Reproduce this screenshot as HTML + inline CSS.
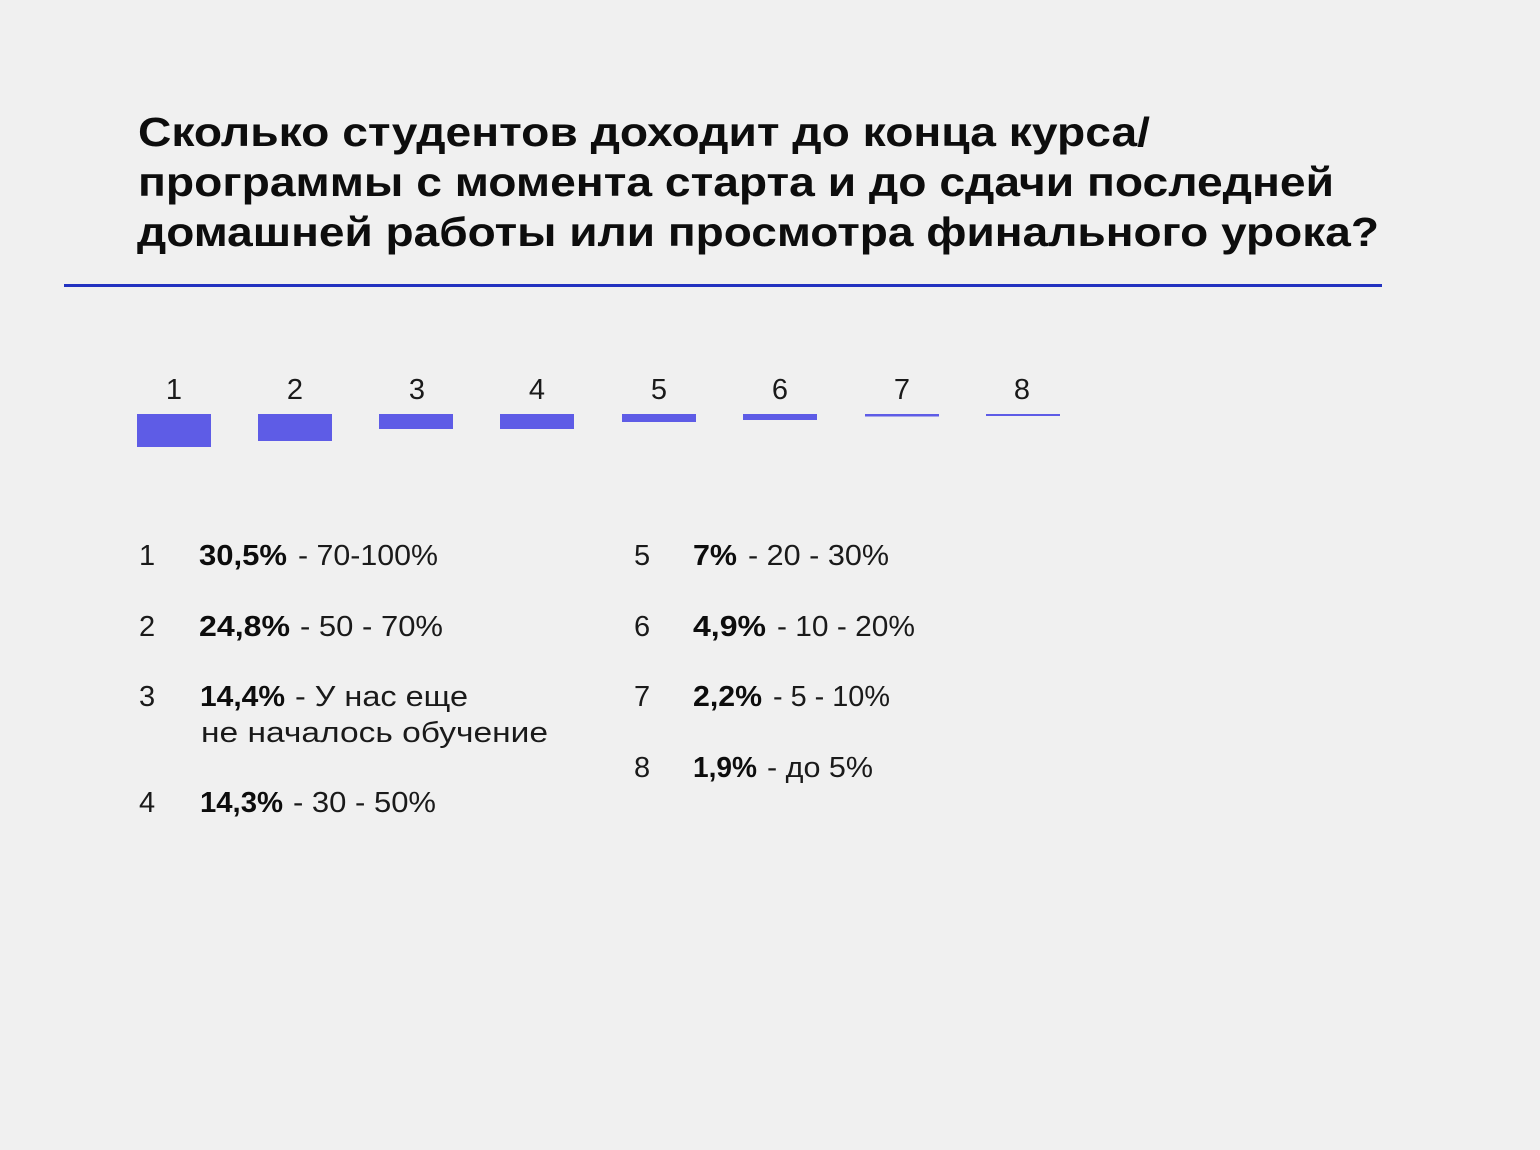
<!DOCTYPE html>
<html>
<head>
<meta charset="utf-8">
<style>
html,body{margin:0;padding:0;background:#f0f0f0;}
svg{display:block;}
</style>
</head>
<body>
<svg width="1540" height="1150" viewBox="0 0 1540 1150" xmlns="http://www.w3.org/2000/svg">
<rect x="0" y="0" width="1540" height="1150" fill="#f0f0f0"/>
<g font-family="'Liberation Sans', 'Noto Sans CJK SC', sans-serif" font-weight="bold" font-size="41" fill="#0d0d0d">
<text x="138" y="146" textLength="1012" lengthAdjust="spacingAndGlyphs">Сколько студентов доходит до конца курса/</text>
<text x="138" y="196" textLength="1196" lengthAdjust="spacingAndGlyphs">программы с момента старта и до сдачи последней</text>
<text x="137" y="246" textLength="1242" lengthAdjust="spacingAndGlyphs">домашней работы или просмотра финального урока?</text>
</g>
<rect x="64" y="284" width="1318" height="3" fill="#2232c0"/>

<g font-family="'Liberation Sans', sans-serif" font-size="29" fill="#1a1a1a" text-anchor="middle">
<text x="174" y="399">1</text>
<text x="295" y="399">2</text>
<text x="417" y="399">3</text>
<text x="537" y="399">4</text>
<text x="659" y="399">5</text>
<text x="780" y="399">6</text>
<text x="902" y="399">7</text>
<text x="1022" y="399">8</text>
</g>
<g fill="#5e5ce6">
<rect x="137" y="414" width="74" height="33"/>
<rect x="258" y="414" width="74" height="27"/>
<rect x="379" y="414" width="74" height="15"/>
<rect x="500" y="414" width="74" height="15"/>
<rect x="622" y="414" width="74" height="8"/>
<rect x="743" y="414" width="74" height="6"/>
<rect x="865" y="414" width="74" height="2.5"/>
<rect x="986" y="414" width="74" height="2"/>
</g>

<g font-family="'Liberation Sans', sans-serif" font-size="29" fill="#1a1a1a">
<text x="139" y="565">1</text>
<text x="139" y="636">2</text>
<text x="139" y="706">3</text>
<text x="139" y="812">4</text>
<text x="634" y="565">5</text>
<text x="634" y="636">6</text>
<text x="634" y="706">7</text>
<text x="634" y="777">8</text>

<g font-weight="bold" fill="#0d0d0d">
<text x="199" y="565" textLength="88" lengthAdjust="spacingAndGlyphs">30,5%</text>
<text x="199" y="636" textLength="91" lengthAdjust="spacingAndGlyphs">24,8%</text>
<text x="200" y="706" textLength="85" lengthAdjust="spacingAndGlyphs">14,4%</text>
<text x="200" y="812" textLength="83" lengthAdjust="spacingAndGlyphs">14,3%</text>
<text x="693" y="565" textLength="44" lengthAdjust="spacingAndGlyphs">7%</text>
<text x="693" y="636" textLength="73" lengthAdjust="spacingAndGlyphs">4,9%</text>
<text x="693" y="706" textLength="69" lengthAdjust="spacingAndGlyphs">2,2%</text>
<text x="693" y="777" textLength="64" lengthAdjust="spacingAndGlyphs">1,9%</text>
</g>

<text x="298" y="565" textLength="140" lengthAdjust="spacingAndGlyphs">- 70-100%</text>
<text x="300" y="636" textLength="143" lengthAdjust="spacingAndGlyphs">- 50 - 70%</text>
<text x="295" y="706" textLength="173" lengthAdjust="spacingAndGlyphs">- У нас еще</text>
<text x="201" y="742" textLength="347" lengthAdjust="spacingAndGlyphs">не началось обучение</text>
<text x="293" y="812" textLength="143" lengthAdjust="spacingAndGlyphs">- 30 - 50%</text>
<text x="748" y="565" textLength="141" lengthAdjust="spacingAndGlyphs">- 20 - 30%</text>
<text x="777" y="636" textLength="138" lengthAdjust="spacingAndGlyphs">- 10 - 20%</text>
<text x="773" y="706" textLength="117" lengthAdjust="spacingAndGlyphs">- 5 - 10%</text>
<text x="767" y="777" textLength="106" lengthAdjust="spacingAndGlyphs">- до 5%</text>
</g>
</svg>
</body>
</html>
